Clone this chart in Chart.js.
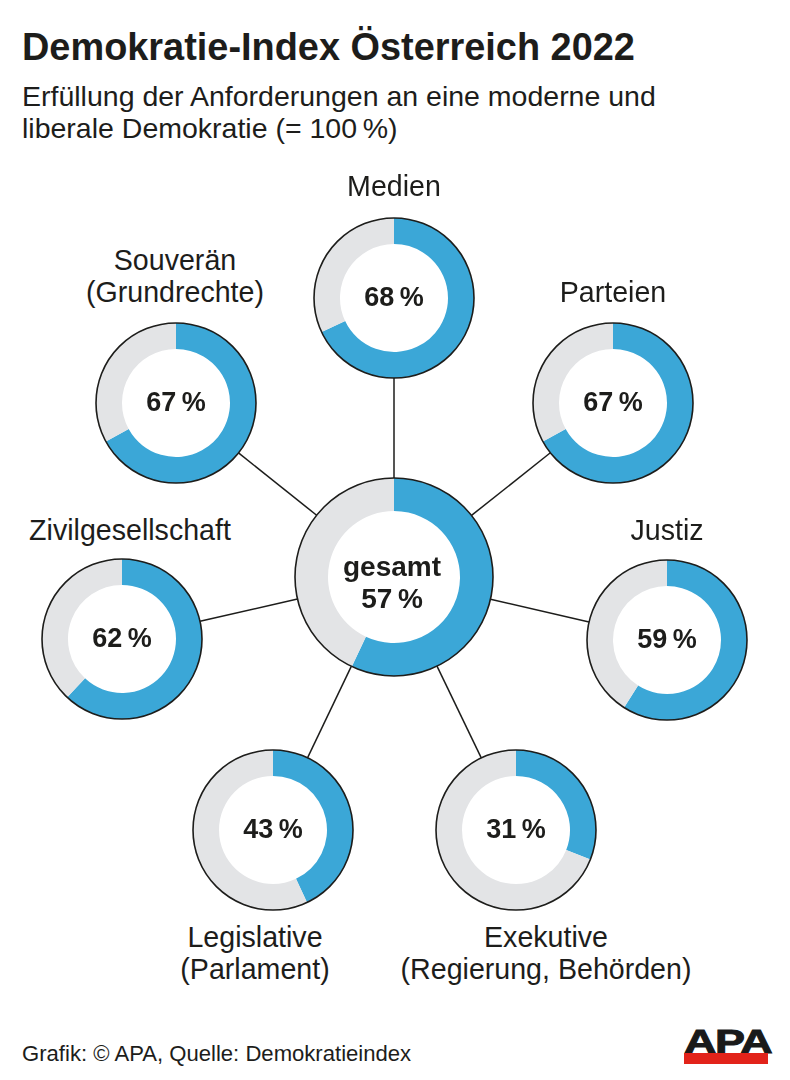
<!DOCTYPE html>
<html lang="de">
<head>
<meta charset="utf-8">
<title>Demokratie-Index Österreich 2022</title>
<script src="https://cdn.jsdelivr.net/npm/chart.js@4/dist/chart.umd.min.js"></script>
<style>
html, body { margin: 0; padding: 0; background: #fff; }
#page { position: relative; width: 790px; height: 1080px; overflow: hidden; font-family: "Liberation Sans", Arial, sans-serif; color: #1d1d1b; }
#lines { position: absolute; left: 0; top: 0; }
.txt { position: absolute; white-space: nowrap; }
.lab { font-size: 28.6px; line-height: 32px; text-align: center; transform: translateX(-50%); }
.val { font-weight: bold; font-size: 27px; line-height: 32px; text-align: center; transform: translate(-50%, -50%); }
canvas { position: absolute; }
</style>
</head>
<body>
<div id="page">
  <div class="txt" style="left:22px;top:26px;font-size:37.9px;font-weight:bold;line-height:42px">Demokratie-Index Österreich 2022</div>
  <div class="txt" style="left:22px;top:80px;font-size:28.5px;line-height:32px">Erfüllung der Anforderungen an eine moderne und<br>liberale Demokratie (= 100&#8201;%)</div>
  <svg id="lines" width="790" height="1080"></svg>
  <div class="txt" style="left:22px;top:1042px;font-size:22.1px;line-height:24px">Grafik: © APA, Quelle: Demokratieindex</div>
  <div class="txt" id="logo" style="left:684px;top:1021px;width:84px;height:43px">
    <div style="position:absolute;left:0;top:3px;font-size:34px;font-weight:bold;line-height:34px;transform-origin:0 0;transform:scaleX(1.32);color:#1a1a1a;-webkit-text-stroke:1px #1a1a1a;letter-spacing:-1px">APA</div>
    <div style="position:absolute;left:0;top:32px;width:84px;height:11px;background:#e2231a"></div>
  </div>
</div>
<script>
// Werte aus der Grafik
var names = ["Medien", "Parteien", "Justiz", "Exekutive", "Legislative", "Zivilgesellschaft", "Souverän"];
var values = [68, 67, 59, 31, 43, 62, 67];
var totalName = "gesamt";
var totalValue = 57;
var subNames = ["", "", "", "(Regierung, Behörden)", "(Parlament)", "", "(Grundrechte)"];

// Layout
var centerX = 394, centerY = 577, centerR = 99, centerCut = 66;
var ringR = 80, ringCut = 54;
var ringX = [394, 613, 667, 516, 273, 122, 176];
var ringY = [298, 403, 640, 830, 830, 639, 403];
var labelX = [394, 613, 667, 546, 255, 130, 175];
var labelY = [170, 276, 514, 921, 921, 514, 244];

var blue = "#3ba7d7";
var grey = "#e3e4e6";
var page = document.getElementById("page");

// schwarzer Rand um den Ring
var ringOutline = {
    id: "ringOutline",
    afterDraw: function (chart) {
        var arc = chart.getDatasetMeta(0).data[0];
        var c = chart.ctx;
        c.save();
        c.strokeStyle = "#1d1d1b";
        c.lineWidth = 1.6;
        c.beginPath();
        c.arc(arc.x, arc.y, arc.outerRadius, 0, Math.PI * 2);
        c.stroke();
        c.restore();
    }
};

function addRing(x, y, r, cut, value) {
    var cv = document.createElement("canvas");
    var side = 2 * r + 4;
    cv.width = side;
    cv.height = side;
    cv.style.left = (x - r - 2) + "px";
    cv.style.top = (y - r - 2) + "px";
    cv.style.width = side + "px";
    cv.style.height = side + "px";
    page.appendChild(cv);
    new Chart(cv, {
        type: "doughnut",
        data: {
            datasets: [{
                data: [value, 100 - value],
                backgroundColor: [blue, grey],
                borderWidth: 0
            }]
        },
        options: {
            responsive: false,
            animation: false,
            cutout: cut,
            layout: { padding: 2 },
            plugins: { legend: { display: false }, tooltip: { enabled: false } }
        },
        plugins: [ringOutline]
    });
}

function addText(cls, x, y, html, size) {
    var d = document.createElement("div");
    d.className = "txt " + cls;
    d.style.left = x + "px";
    d.style.top = y + "px";
    if (size) d.style.fontSize = size + "px";
    d.innerHTML = html;
    page.appendChild(d);
}

// Verbindungslinien, nur zwischen den Ringen
var svg = document.getElementById("lines");
names.forEach(function (n, i) {
    var dx = ringX[i] - centerX, dy = ringY[i] - centerY;
    var len = Math.sqrt(dx * dx + dy * dy);
    var l = document.createElementNS("http://www.w3.org/2000/svg", "line");
    l.setAttribute("x1", centerX + dx / len * centerR);
    l.setAttribute("y1", centerY + dy / len * centerR);
    l.setAttribute("x2", ringX[i] - dx / len * ringR);
    l.setAttribute("y2", ringY[i] - dy / len * ringR);
    l.setAttribute("stroke", "#1d1d1b");
    l.setAttribute("stroke-width", "1.5");
    svg.appendChild(l);
});

addRing(centerX, centerY, centerR, centerCut, totalValue);
addText("val", centerX - 2, centerY + 6, totalName + "<br>" + totalValue + "\u2009%", 28);

names.forEach(function (n, i) {
    addRing(ringX[i], ringY[i], ringR, ringCut, values[i]);
    addText("val", ringX[i], ringY[i] - 1, values[i] + "\u2009%");
    addText("lab", labelX[i], labelY[i], n + (subNames[i] ? "<br>" + subNames[i] : ""));
});
</script>
</body>
</html>
